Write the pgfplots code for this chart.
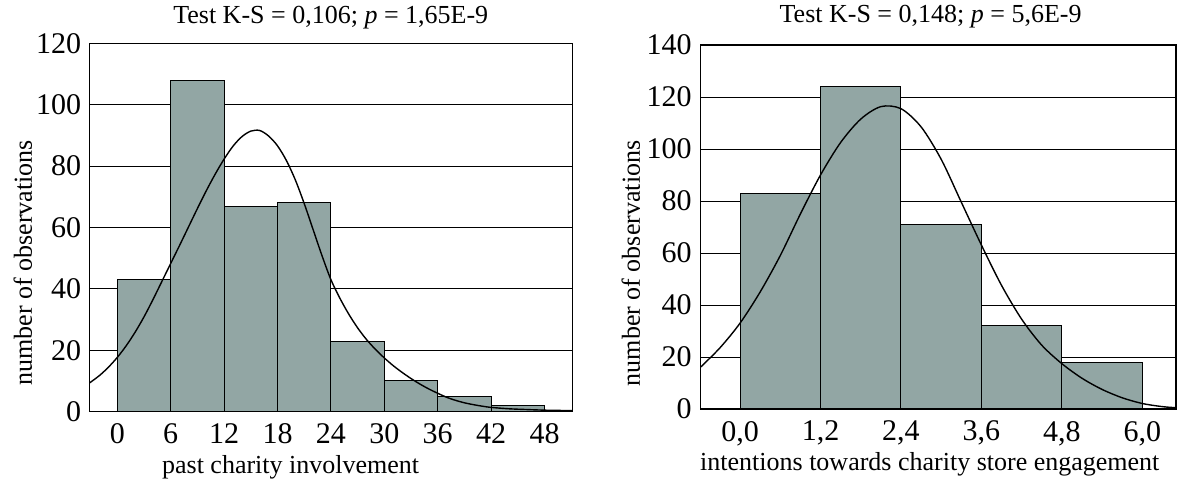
\documentclass[border=0pt]{standalone}
\usepackage{fontspec}
\setmainfont{Liberation Serif}
\usepackage{pgfplots}
\pgfplotsset{compat=1.18}
\definecolor{barfill}{RGB}{146,166,164}
\newcommand{\chartfont}{\fontsize{13}{15.5}\selectfont}
\newcommand{\tickfont}{\fontsize{15}{18}\selectfont}
\pgfplotsset{
  mystyle/.style={
    scale only axis,
    axis line style={black, line width=0.6pt},
    /pgf/number format/assume math mode=true,
    tick label style={font=\tickfont},
    label style={font=\chartfont},
    title style={font=\chartfont},
    major tick length=0pt,
    ymajorgrids,
    grid style={black, line width=0.45pt},
    ymin=0,
    xticklabel style={yshift=-2.5pt},
    clip=true,
  },
  barstyle/.style={ybar interval, fill=barfill, draw=black, line width=0.5pt},
  curvestyle/.style={black, line width=0.7pt, smooth, mark=none},
}
\begin{document}
\begin{tikzpicture}
\begin{axis}[mystyle,
  at={(44.6pt,35.15pt)}, anchor=south west,
  width=241.55pt, height=184.2pt,
  xmin=-3.16, xmax=51.12, ymax=120,
  ytick={0,20,...,120}, xtick={0,6,...,48},
  yticklabel style={xshift=-0.45pt},
  title={Test K-S = 0,106; \textit{p} = 1,65E-9},
  title style={at={(axis description cs:0.5,1.0225)}, anchor=base},
  xlabel={past charity involvement},
  xlabel style={at={(axis description cs:0.417,-0.1664)}, anchor=base},
  ylabel={number of observations},
  ylabel style={at={(axis description cs:-0.1186,0.404)}, anchor=base},
]
\addplot[barstyle] coordinates {(0,43) (6,108) (12,67) (18,68) (24,23) (30,10) (36,5) (42,2) (48,2)};
\addplot[curvestyle] coordinates {
(-3.2,9.2) (-2,11.8) (-1,14.5) (0,17.7) (1,21.5) (2,25.9) (3,30.9) (4,36.5) (5,42.4)
(6,48.3) (7,54.2) (8,60.2) (9,66.2) (10,72) (11,77.4) (12,82.3) (13,86.5) (14,89.6)
(15,91.4) (16,91.6) (17,89.8) (18,86.6) (19,81.8) (20,75.5) (21,67.8)
(22,59.3) (23,50.8) (24,43) (25,37) (26,31.8) (27,27.3) (28,23.5) (29,20.3)
(30,17.5) (31,15.0) (32,12.8) (33,10.8) (34,9.0) (35,7.4) (36,6.0) (37,4.7) (38,3.7)
(39,2.9) (40,2.3) (41,1.8) (42,1.4) (44,0.95) (46,0.7) (48,0.5) (50,0.4) (51.2,0.4)};
\end{axis}
\begin{axis}[mystyle,
  at={(350.35pt,36.5pt)}, anchor=south west,
  width=237.65pt, height=182pt,
  xmin=-0.586, xmax=6.5, ymax=140,
  ytick={0,20,...,140}, xtick={0,1.2,2.4,3.6,4.8,6.0},
  xticklabels={{0,0},{1,2},{2,4},{3,6},{4,8},{6,0}},
  yticklabel style={xshift=-1pt},
  title={Test K-S = 0,148; \textit{p} = 5,6E-9},
  title style={at={(axis description cs:0.4837,1.0275)}, anchor=base},
  xlabel={intentions towards charity store engagement},
  xlabel style={at={(axis description cs:0.482,-0.1676)}, anchor=base},
  ylabel={number of observations},
  ylabel style={at={(axis description cs:-0.128,0.40)}, anchor=base},
]
\addplot[barstyle] coordinates {(0,83) (1.2,124) (2.4,71) (3.6,32) (4.8,18) (6.0,18)};
\addplot[curvestyle] coordinates {
(-0.6,15.8) (-0.3,23.5) (0,33) (0.3,45) (0.6,59) (0.9,75) (1.2,90) (1.5,102.5)
(1.8,111.5) (2.1,116.3) (2.4,115.5) (2.7,108.5) (3.0,96) (3.3,79.5) (3.6,63)
(3.9,47.5) (4.2,34.5) (4.5,24.5) (4.8,17.4) (5.1,11.8) (5.4,7.5) (5.7,4.3) (6.0,2.1)
(6.3,0.9) (6.5,0.5)};
\end{axis}
\pgfresetboundingbox
\useasboundingbox (0,0) rectangle (589pt,241pt);
\end{tikzpicture}
\end{document}
